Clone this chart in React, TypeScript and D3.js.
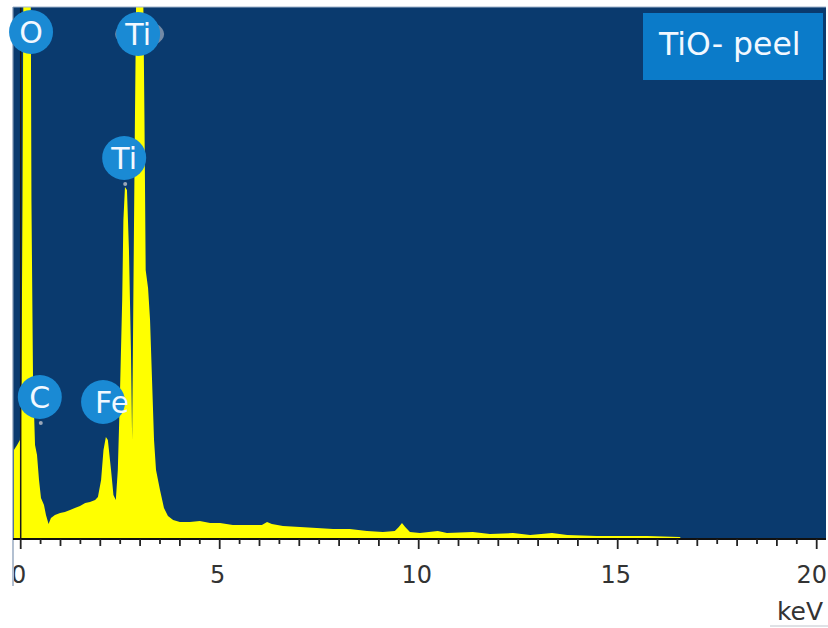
import React from "react";
import * as d3 from "d3";

// Spectrum: energy (keV) and counts
const energyKeV = [
  -0.17, -0.17, -0.09, -0.02, 0.02, 0.045, 0.07, 0.25, 0.27, 0.31, 0.36, 0.41, 0.46, 0.51, 0.585, 0.635,
  0.7, 0.76, 0.86, 0.99, 1.11, 1.24, 1.36, 1.49, 1.62, 1.74, 1.87, 1.94, 2.02, 2.08, 2.14, 2.19, 2.27,
  2.33, 2.39, 2.44, 2.49, 2.55, 2.58, 2.62, 2.67, 2.72, 2.77, 2.8, 2.83, 2.87, 2.91, 3.07, 3.11, 3.14,
  3.2, 3.25, 3.3, 3.35, 3.4, 3.5, 3.6, 3.7, 3.83, 4.0, 4.25, 4.5, 4.76, 5.01, 5.33, 5.76, 6.06, 6.19,
  6.31, 6.59, 7.02, 7.44, 7.85, 8.27, 8.7, 9.1, 9.4, 9.5, 9.58, 9.66, 9.78, 10.03, 10.48, 10.71, 11.36,
  11.79, 12.37, 12.8, 13.35, 13.73, 14.48, 14.88, 15.74, 16.56, 16.61,
];
const counts = [
  0, 890, 940, 990, 1590, 3390, 5790, 5790, 3390, 1590, 940, 840, 590, 410, 340, 240,
  150, 210, 240, 260, 270, 290, 310, 330, 360, 370, 390, 420, 590, 890, 1020, 990, 690,
  440, 390, 690, 1390, 2390, 3190, 3520, 3490, 2890, 1890, 990, 2390, 4190, 5790, 5790, 4190, 2690,
  2510, 2190, 1590, 990, 690, 490, 310, 230, 190, 170, 170, 180, 160, 160, 140, 140, 140, 170,
  150, 130, 120, 110, 100, 100, 80, 70, 80, 120, 160, 120, 70, 60, 80, 60, 70,
  50, 60, 40, 60, 40, 30, 30, 30, 20, 0,
];

// Peak labels
const peakNames = ["O", "Ti", "Ti", "C", "Fe"];
const peakKeV = [0.26, 2.95, 2.6, 0.48, 2.07];
const peakCounts = [5070, 5050, 3810, 1420, 1370];
const peakDx = [0, 0, 0, 0, 9];
const peakDot = [false, false, true, true, false];
const peakGhost = [false, true, false, false, false];

const majorTicks = [0, 5, 10, 15, 20];
const xDomain = [0, 20];
const yMax = 5320;
const title = "TiO- peel";
const unit = "keV";

const W = 828;
const H = 628;
const plotLeft = 13;
const plotRight = 826;
const plotTop = 7;
const axisY = 539;

const NAVY = "#0a3a6e";
const YELLOW = "#ffff00";
const BUBBLE = "#1a8ad4";
const BOX = "#0b7bc9";
const FONT = "'DejaVu Sans', Verdana, sans-serif";

export default function App() {
  const x = d3.scaleLinear().domain(xDomain).range([20.7, 816.7]);
  const y = d3.scaleLinear().domain([0, yMax]).range([axisY, plotTop]);

  const pts = energyKeV.map((e, i) => [e, counts[i]] as [number, number]);
  const area = d3
    .area<[number, number]>()
    .x((d) => x(d[0]))
    .y0(y(0))
    .y1((d) => y(d[1]))
    .curve(d3.curveLinear);

  const ticks = d3.range(0, 20.001, 0.5);

  return (
    <svg
      width={W}
      height={H}
      style={{ position: "absolute", left: 0, top: 0, background: "#fff" }}
    >
      <defs>
        <clipPath id="plotClip">
          <rect x={plotLeft} y={plotTop} width={plotRight - plotLeft} height={axisY - plotTop} />
        </clipPath>
        <clipPath id="labelClip">
          <rect x={plotLeft + 1} y={axisY} width={W} height={H - axisY} />
        </clipPath>
      </defs>
      <rect x={plotLeft} y={plotTop} width={plotRight - plotLeft} height={axisY - plotTop} fill={NAVY} />
      <g clipPath="url(#plotClip)">
        <path d={area(pts) || ""} fill={YELLOW} />
        <line x1={x(0)} x2={x(0)} y1={plotTop} y2={axisY} stroke="#1a1a1a" strokeWidth={1.5} />
      </g>
      {/* frame edges */}
      <line x1={plotLeft} x2={plotRight} y1={plotTop} y2={plotTop} stroke="#9fb3cc" strokeWidth={1} />
      <line x1={plotLeft} x2={plotLeft} y1={plotTop} y2={586} stroke="#7f95b3" strokeWidth={1.2} />

      {/* x axis */}
      <line x1={plotLeft} x2={plotRight} y1={axisY} y2={axisY} stroke="#111" strokeWidth={2} />
      {ticks.map((t) => {
        const isMajor = Math.abs(t % 5) < 1e-6;
        const isInt = Math.abs(t % 1) < 1e-6;
        const len = isMajor ? 10 : isInt ? 7 : 5;
        return (
          <line
            key={t}
            x1={x(t)}
            x2={x(t)}
            y1={axisY}
            y2={axisY + len}
            stroke="#222"
            strokeWidth={1.8}
          />
        );
      })}
      <g clipPath="url(#labelClip)">
        {majorTicks.map((t) => (
          <text
            key={t}
            x={t === 20 ? x(t) - 5 : x(t) - 2}
            y={583}
            textAnchor="middle"
            fontFamily={FONT}
            fontSize={24}
            fill="#333"
          >
            {t}
          </text>
        ))}
      </g>
      <text x={823} y={620} textAnchor="end" fontFamily={FONT} fontSize={25} fill="#333">
        {unit}
      </text>
      <line x1={770} x2={828} y1={626} y2={626} stroke="#d4d8de" strokeWidth={1.5} />

      {/* peak labels */}
      {peakNames.map((n, i) => {
        const cx = x(peakKeV[i]);
        const cy = y(peakCounts[i]);
        return (
          <g key={i}>
            {peakGhost[i] && (
              <ellipse cx={cx + 1.5} cy={cy} rx={24.5} ry={14} fill="#8d9db3" opacity={0.8} />
            )}
            <circle cx={cx} cy={cy} r={22} fill={BUBBLE} />
            {peakDot[i] && <circle cx={cx + 1} cy={cy + 26} r={2} fill="#9aa6b8" />}
            <text
              x={cx + peakDx[i]}
              y={cy + 11}
              textAnchor="middle"
              fontFamily={FONT}
              fontSize={30}
              fill="#f2f8ff"
            >
              {n}
            </text>
          </g>
        );
      })}

      {/* title box */}
      <rect x={643} y={13} width={180} height={67} fill={BOX} />
      <text x={659} y={55} fontFamily={FONT} fontSize={31.5} fill="#f2f8ff">
        {title}
      </text>
    </svg>
  );
}
